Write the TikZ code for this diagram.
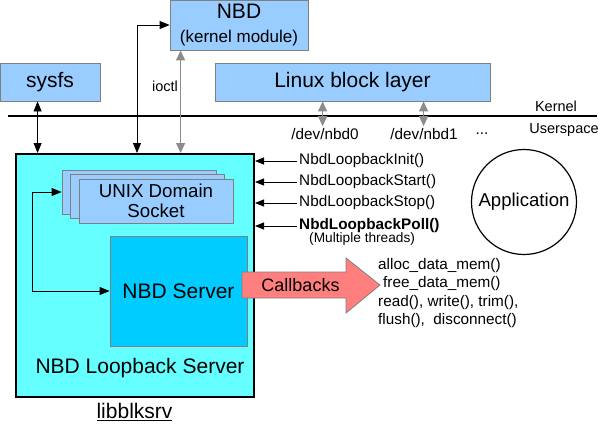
\documentclass[tikz,border=0pt]{standalone}
\usepackage{fontspec}
\setmainfont{Liberation Sans}
\usetikzlibrary{arrows.meta,calc}
\definecolor{boxblue}{HTML}{99CCFF}
\definecolor{mainfill}{HTML}{66FFFF}
\definecolor{srvfill}{HTML}{00CCFF}
\definecolor{cbfill}{HTML}{FF7F7F}
\definecolor{edgegray}{HTML}{808080}
\definecolor{arrgray}{HTML}{8C8C8C}
\begin{document}
\begin{tikzpicture}[x=1pt,y=-1pt,
  bluebox/.style={draw=edgegray, fill=boxblue, line width=0.8pt, inner sep=0pt, font=\fontsize{21}{24}\selectfont},
  lbl/.style={inner sep=0pt, font=\fontsize{15.3}{17}\selectfont},
  blk/.style={line width=0.8pt, {Triangle[length=10pt,width=8pt]}-{Triangle[length=10pt,width=8pt]}},
  gry/.style={draw=arrgray, line width=1.2pt, {Triangle[length=10pt,width=9pt]}-{Triangle[length=10pt,width=9pt]}},
  fnarrow/.style={line width=0.8pt, -{Triangle[length=9pt,width=7pt]}}
]
\useasboundingbox (0,0) rectangle (613,432);

% top boxes
\node[bluebox, minimum width=138, minimum height=50, align=center] (nbd) at (239,25)
  {{\fontsize{21}{21}\selectfont NBD}\\[0pt]{\fontsize{17}{19}\selectfont (kernel module)}};
\node[bluebox, minimum width=100, minimum height=38] (sysfs) at (50,82) {sysfs};
\node[bluebox, minimum width=275, minimum height=38] (linux) at (352.5,82) {Linux block layer};

% kernel / userspace line
\coordinate (kl) at (8,116);
\coordinate (kr) at (597,116);
\draw[line width=1.8pt] (kl) -- (kr);
\node[lbl, font=\fontsize{14.5}{16}\selectfont] (kernel) at (556,106) {Kernel};
\node[lbl, font=\fontsize{14.5}{16}\selectfont] (user) at (564,130) {Userspace};

% device nodes
\node[lbl] (dev0) at (325,134) {/dev/nbd0};
\node[lbl] (dev1) at (424,134) {/dev/nbd1};
\node[lbl] (dots) at (482,134) {...};

% main box
\node[draw=black, fill=mainfill, line width=2pt, minimum width=238, minimum height=243, inner sep=0pt] (main) at (135,275.5) {};

% sockets
\node[bluebox, minimum width=154, minimum height=44] (sock3) at (139,192) {};
\node[bluebox, minimum width=154, minimum height=44] (sock2) at (147.5,196.5) {};
\node[bluebox, minimum width=154, minimum height=44, align=center, font=\fontsize{18.7}{19.5}\selectfont] (sock1) at (156,201) {UNIX Domain\\Socket};

% NBD server
\node[draw=edgegray, fill=srvfill, line width=0.8pt, minimum width=137, minimum height=110, inner sep=0pt, font=\fontsize{21}{24}\selectfont] (srv) at (178.5,291) {NBD Server};

\node[inner sep=0pt, font=\fontsize{21}{24}\selectfont] (nls) at (140,368) {NBD Loopback Server};
\node[inner sep=0pt, font=\fontsize{21}{24}\selectfont] (lib) at (134.5,412) {\underline{libblksrv}};

% arrows kernel
\draw[blk] ($(sysfs.south west)+(38,0)$) coordinate (sa) -- (sa |- main.north);
\draw[blk] (nbd.west) -| ($(main.north west)+(122,0)$);
\draw[gry] ($(nbd.south west)+(11,0)$) coordinate (ia) -- (ia |- main.north);
\node[lbl, font=\fontsize{14.5}{16}\selectfont] (ioctl) at (165,86) {ioctl};
\draw[gry] ($(linux.south west)+(108,0)$) coordinate (d0) -- ([yshift=2pt]d0 |- dev0.north);
\draw[gry] ($(linux.south west)+(209,0)$) coordinate (d1) -- ([yshift=2pt]d1 |- dev1.north);

% socket to server
\draw[blk] (sock3.west) -- ++(-29,0) |- (srv.west);

% API functions
\node[lbl, anchor=west] (finit) at (299,161) {NbdLoopbackInit()};
\node[lbl, anchor=west] (fstart) at (299,182) {NbdLoopbackStart()};
\node[lbl, anchor=west] (fstop) at (299,203) {NbdLoopbackStop()};
\node[lbl, anchor=west, font=\fontsize{15.3}{17}\selectfont\bfseries] (fpoll) at (299,226) {NbdLoopbackPoll()};
\node[lbl, anchor=west, font=\fontsize{13.7}{15}\selectfont] (multi) at (309,239) {(Multiple threads)};
\foreach \f in {finit,fstart,fstop,fpoll}
  \draw[fnarrow] ($(\f.west)+(-2,0)$) -- (\f.west -| main.east);

% application
\node[draw=black, line width=1.2pt, circle, minimum size=105, inner sep=0pt, font=\fontsize{18.6}{20}\selectfont] (app) at (524,202) {Application};

% callbacks arrow
\draw[draw=edgegray, fill=cbfill, line width=0.8pt]
  (242,272) -- (346,272) -- (346,258) -- (380,285) -- (346,313) -- (346,298) -- (242,298) -- cycle;
\node[inner sep=0pt, font=\fontsize{18}{20}\selectfont] (cb) at (300.5,285) {Callbacks};

% callback functions
\node[lbl, anchor=west] (c1) at (378,266) {alloc\_data\_mem()};
\node[lbl, anchor=west] (c2) at (383,284) {free\_data\_mem()};
\node[lbl, anchor=west] (c3) at (378,303) {read(), write(), trim(),};
\node[lbl, anchor=west] (c4) at (378,321) {flush(),\ \ disconnect()};
\end{tikzpicture}
\end{document}
